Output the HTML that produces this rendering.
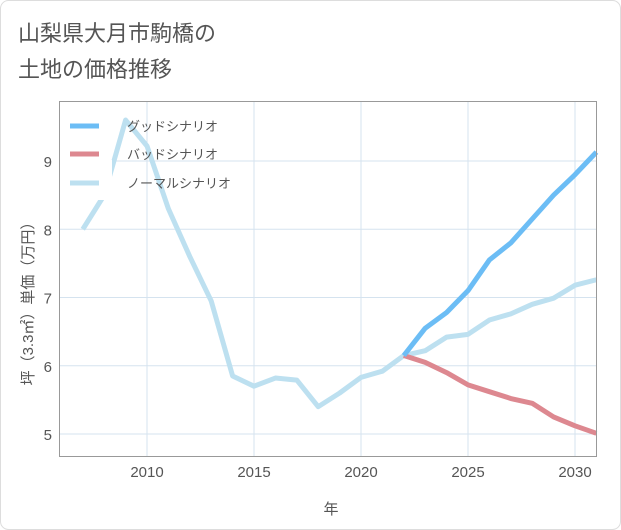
<!DOCTYPE html>
<html><head><meta charset="utf-8"><style>
body{margin:0;background:#fff;font-family:"Liberation Sans","Noto Sans CJK JP",sans-serif}
</style></head><body>
<svg width="621" height="530" style="display:block">
<rect x="0.5" y="0.5" width="620" height="529" rx="8" fill="#fff" stroke="#ddd"/>
<text x="18" y="41" font-size="22" fill="#555">山梨県大月市駒橋の</text>
<text x="18" y="77" font-size="22" fill="#555">土地の価格推移</text>
<g id="grid"></g>
<g id="series"></g>
<rect x="60" y="160" width="52" height="40" fill="#fff"/>
<rect x="59.5" y="101.5" width="537" height="355" fill="none" stroke="#999"/>
<g id="axes"></g>
<g font-size="13" fill="#555">
<line x1="70" y1="126" x2="99" y2="126" stroke="#6cbdf5" stroke-width="5"/>
<text x="127" y="131">グッドシナリオ</text>
<line x1="70" y1="154" x2="99" y2="154" stroke="#dd8890" stroke-width="5"/>
<text x="127" y="159">バッドシナリオ</text>
<line x1="70" y1="183" x2="99" y2="183" stroke="#bde0f0" stroke-width="5"/>
<text x="127" y="188">ノーマルシナリオ</text>
</g>
<text x="331" y="514" font-size="15" fill="#555" text-anchor="middle">年</text>
<text transform="translate(33,300) rotate(-90)" font-size="15" fill="#555" text-anchor="middle">坪（3.3㎡）単価（万円）</text>
</svg>
<script>
const normalYears=[2007,2008,2009,2010,2011,2012,2013,2014,2015,2016,2017,2018,2019,2020,2021,2022,2023,2024,2025,2026,2027,2028,2029,2030,2031];
const normalVals=[8.0,8.5,9.6,9.22,8.3,7.6,6.95,5.85,5.7,5.82,5.79,5.4,5.6,5.83,5.92,6.15,6.22,6.42,6.46,6.67,6.76,6.9,6.99,7.18,7.26];
const futureYears=[2022,2023,2024,2025,2026,2027,2028,2029,2030,2031];
const goodVals=[6.15,6.55,6.78,7.1,7.55,7.8,8.15,8.5,8.8,9.13];
const badVals=[6.15,6.05,5.9,5.72,5.62,5.52,5.45,5.25,5.12,5.01];
const xTicks=[2010,2015,2020,2025,2030];
const yTicks=[5,6,7,8,9];
const NS="http://www.w3.org/2000/svg";
const xs=y=>147+(y-2010)*21.4;
const ys=v=>161+(9-v)*68.25;
const grid=document.getElementById('grid'),axes=document.getElementById('axes'),ser=document.getElementById('series');
function mk(tag,at,par){const e=document.createElementNS(NS,tag);for(const k in at)e.setAttribute(k,at[k]);par.appendChild(e);return e;}
xTicks.forEach(t=>{
 const l=mk('line',{x1:xs(t),x2:xs(t),y1:101,y2:457,stroke:'#d5e3ef'},grid);
 
 
 const tx=mk('text',{x:xs(t),y:477,'font-size':15,fill:'#555','text-anchor':'middle'},axes);
 tx.textContent=t;
 
 
});
yTicks.forEach(t=>{
 const l=mk('line',{x1:59,x2:597,y1:ys(t),y2:ys(t),stroke:'#d5e3ef'},grid);
 
 
 const tx=mk('text',{x:52,y:ys(t)+6,'font-size':15,fill:'#555','text-anchor':'end'},axes);
 tx.textContent=t;
 
 
});
function line(years,vals,color,name){
 const p=mk('polyline',{points:years.map((y,i)=>xs(y)+','+ys(vals[i])).join(' '),fill:'none',stroke:color,'stroke-width':5,'stroke-linejoin':'round'},ser);
 
 
}
line(normalYears,normalVals,'#bde0f0','normal-scenario-line');
line(futureYears,badVals,'#dd8890','bad-scenario-line');
line(futureYears,goodVals,'#6cbdf5','good-scenario-line');
</script>
</body></html>
